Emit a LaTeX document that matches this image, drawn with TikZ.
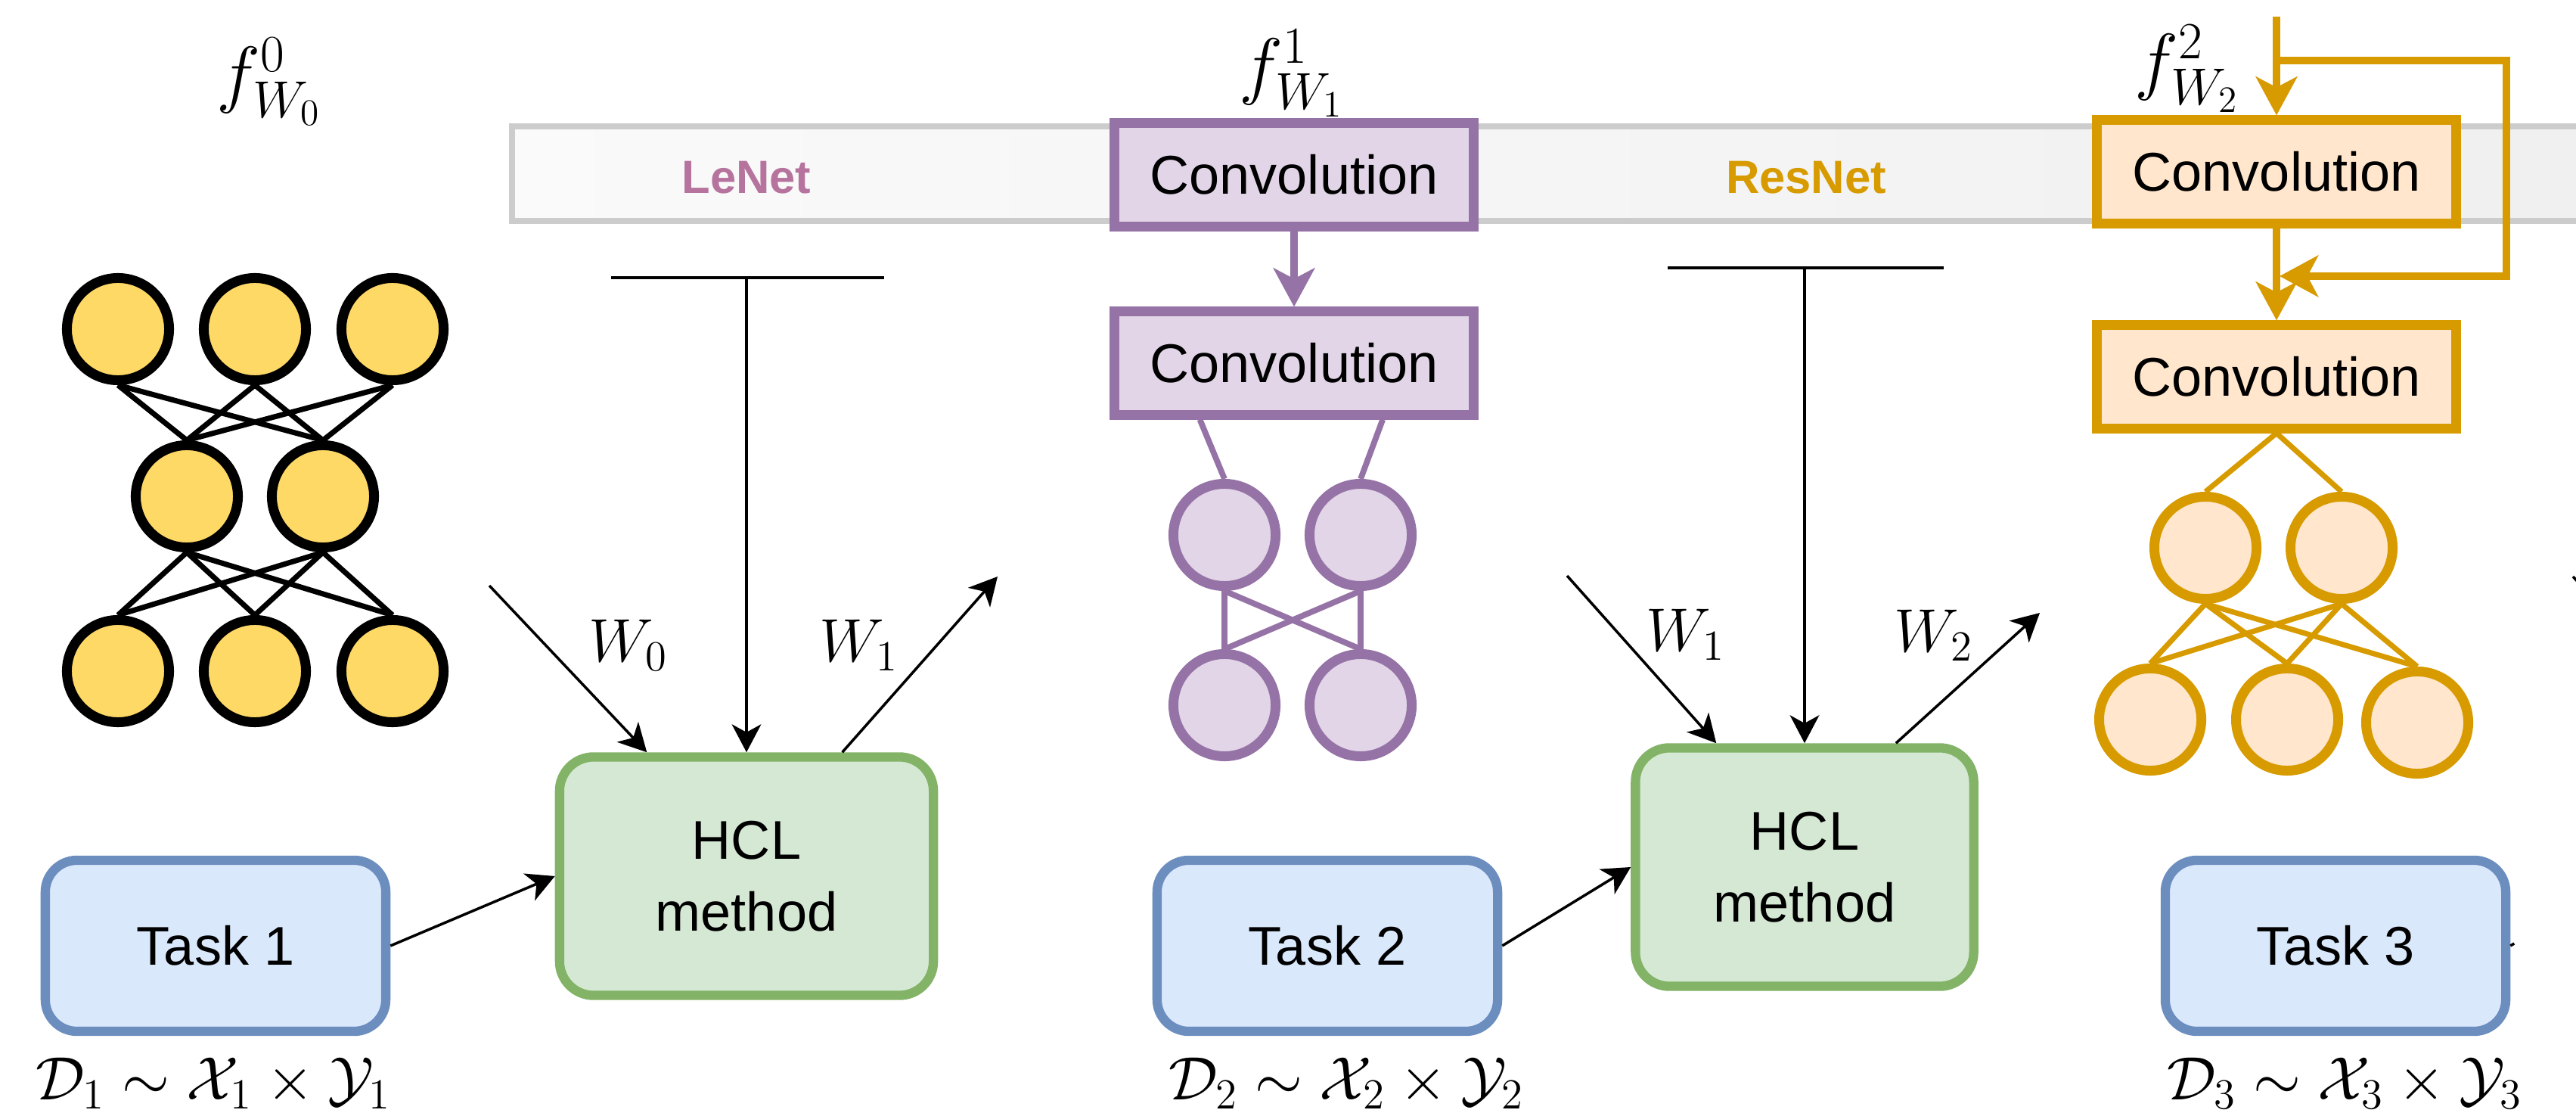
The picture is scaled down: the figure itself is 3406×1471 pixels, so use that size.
\RequirePackage{fix-cm}
\documentclass[tikz,border=0pt]{standalone}
\usepackage{fontspec}
\newfontfamily\labelfont{Liberation Sans}
\usetikzlibrary{arrows.meta,calc,backgrounds}

\definecolor{bandline}{HTML}{CCCCCC}
\definecolor{yelfill}{HTML}{FFD966}
\definecolor{purline}{HTML}{9673A6}
\definecolor{purfill}{HTML}{E1D5E7}
\definecolor{purtext}{HTML}{B5739D}
\definecolor{orgline}{HTML}{D79B00}
\definecolor{orgfill}{HTML}{FFE6CC}
\definecolor{grnline}{HTML}{82B366}
\definecolor{grnfill}{HTML}{D5E8D4}
\definecolor{bluline}{HTML}{6C8EBF}
\definecolor{blufill}{HTML}{DAE8FC}

\tikzset{
  boxtext/.style={font=\labelfont\fontsize{20.5}{27}\selectfont, align=center},
  bandlabel/.style={font=\labelfont\bfseries\fontsize{17.5}{21}\selectfont, inner sep=0pt},
  mathlbl/.style={font=\fontsize{23}{28}\selectfont, inner sep=0pt},
  funclbl/.style={font=\fontsize{28}{34}\selectfont, inner sep=0pt},
  neuron/.style={circle, inner sep=0pt, minimum size=1.35cm, line width=3.7pt},
  yneuron/.style={neuron, draw=black, fill=yelfill},
  pneuron/.style={neuron, draw=purline, fill=purfill},
  oneuron/.style={neuron, draw=orgline, fill=orgfill},
  convbox/.style={boxtext, rectangle, minimum width=4.75cm, minimum height=1.36cm,
    line width=3.7pt, inner sep=0pt},
  pconv/.style={convbox, draw=purline, fill=purfill},
  oconv/.style={convbox, draw=orgline, fill=orgfill},
  taskbox/.style={boxtext, rectangle, rounded corners=0.42cm, minimum width=4.5cm,
    minimum height=2.26cm, line width=3.5pt, draw=bluline, fill=blufill},
  hclbox/.style={boxtext, rectangle, rounded corners=0.45cm, minimum height=3.15cm,
    line width=3.5pt, draw=grnline, fill=grnfill},
  thinline/.style={line width=1pt},
  flow/.style={thinline, -{Stealth[length=10.5pt, width=11pt, inset=3pt]}},
  netedge/.style={line width=2pt},
  colarrow/.style={line width=2.7pt, -{Stealth[length=14.5pt, width=15.5pt, inset=4pt]}},
}

\begin{document}
\begin{tikzpicture}[x=0.01cm, y=-0.01cm]
\useasboundingbox (0,0) rectangle (3406,1471);

% grey architecture band
\draw[line width=2.3pt, draw=bandline, left color=white!98!black, right color=white!94!black]
  (677,167) rectangle (3470,292);
\node[bandlabel, text=purtext] (lenet) at (987,235) {LeNet};
\node[bandlabel, text=orgline] (resnet) at (2388,235) {ResNet};

% ---------- first model: fully connected net ----------
\node[funclbl] (f0) at (356,108) {$f^{0}_{W_0}$};
\node[yneuron] (y1) at (156,435) {};
\node[yneuron] (y2) at (337,435) {};
\node[yneuron] (y3) at (519,435) {};
\node[yneuron] (y4) at (247,656) {};
\node[yneuron] (y5) at (427,656) {};
\node[yneuron] (y6) at (156,887) {};
\node[yneuron] (y7) at (337,887) {};
\node[yneuron] (y8) at (519,887) {};
\begin{scope}[on background layer]
  \foreach \a in {y1,y2,y3} \foreach \b in {y4,y5}
    \draw[netedge] (\a.south) -- (\b.north);
  \foreach \a in {y4,y5} \foreach \b in {y6,y7,y8}
    \draw[netedge] (\a.south) -- (\b.north);
\end{scope}

% ---------- second model: LeNet ----------
\node[funclbl] (f1) at (1708,97) {$f^{1}_{W_1}$};
\node[pconv] (pc1) at (1711,231) {Convolution};
\node[pconv] (pc2) at (1711,480) {Convolution};
\draw[colarrow, color=purline] (pc1.south) -- (pc2.north);
\node[pneuron] (p1) at (1619,707) {};
\node[pneuron] (p2) at (1799,707) {};
\node[pneuron] (p3) at (1619,932) {};
\node[pneuron] (p4) at (1799,932) {};
\begin{scope}[on background layer]
  \draw[line width=2.2pt, purline] ($(pc2.south west)!0.245!(pc2.south east)$) -- (p1.north);
  \draw[line width=2.2pt, purline] ($(pc2.south west)!0.74!(pc2.south east)$) -- (p2.north);
  \foreach \a in {p1,p2} \foreach \b in {p3,p4}
    \draw[line width=2.2pt, purline] (\a.south) -- (\b.north);
\end{scope}

% ---------- third model: ResNet ----------
\node[funclbl] (f2) at (2892,91) {$f^{2}_{W_2}$};
\node[oconv] (oc1) at (3010,227) {Convolution};
\node[oconv] (oc2) at (3010,498) {Convolution};
\coordinate (otop) at (3010,22);
\coordinate (obranch) at (3010,80);
\coordinate (oskipa) at (3314,80);
\coordinate (oskipb) at (3314,365);
\coordinate (oskipend) at (3014,365);
\draw[colarrow, color=orgline] (otop) -- (oc1.north);
\draw[colarrow, color=orgline] (oc1.south) -- (oc2.north);
\draw[colarrow, color=orgline] (obranch) -- (oskipa) -- (oskipb) -- (oskipend);
\node[oneuron] (o1) at (2916,724) {};
\node[oneuron] (o2) at (3096,724) {};
\node[oneuron] (o3) at (2843,951) {};
\node[oneuron] (o4) at (3024,951) {};
\node[oneuron] (o5) at (3196,955) {};
\begin{scope}[on background layer]
  \draw[netedge, orgline] (oc2.south) -- (o1.north);
  \draw[netedge, orgline] (oc2.south) -- (o2.north);
  \foreach \a in {o1,o2} \foreach \b in {o3,o4,o5}
    \draw[netedge, orgline] (\a.south) -- (\b.north);
\end{scope}

% ---------- tasks and HCL steps ----------
\node[taskbox] (t1) at (285,1250) {Task 1};
\node[taskbox] (t2) at (1755,1250) {Task 2};
\node[taskbox] (t3) at (3088,1250) {Task 3};
\node[mathlbl] (d1) at (282,1432) {$\mathcal{D}_1 \sim \mathcal{X}_1 \times \mathcal{Y}_1$};
\node[mathlbl] (d2) at (1780,1432) {$\mathcal{D}_2 \sim \mathcal{X}_2 \times \mathcal{Y}_2$};
\node[mathlbl] (d3) at (3100,1432) {$\mathcal{D}_3 \sim \mathcal{X}_3 \times \mathcal{Y}_3$};

\node[hclbox, minimum width=4.94cm] (h1) at (987,1158) {HCL\\method};
\node[hclbox, minimum width=4.47cm] (h2) at (2386,1146) {HCL\\method};

\draw[flow] (t1.east) -- (h1.west);
\draw[flow] (t2.east) -- (h2.west);

% first HCL step
\coordinate (bar1l) at (808,367);
\coordinate (bar1r) at (1169,367);
\draw[thinline] (bar1l) -- (bar1r);
\draw[flow] (bar1l -| h1.north) -- (h1.north);
\coordinate (w0start) at (647,774);
\coordinate (w1end) at (1319,762);
\draw[flow] (w0start) -- ($(h1.north west)!0.24!(h1.north east)$);
\draw[flow] ($(h1.north west)!0.75!(h1.north east)$) -- (w1end);
\node[mathlbl] (lw0) at (831,853) {$W_0$};
\node[mathlbl] (lw1) at (1136,853) {$W_1$};

% second HCL step
\coordinate (bar2l) at (2205,354);
\coordinate (bar2r) at (2570,354);
\draw[thinline] (bar2l) -- (bar2r);
\draw[flow] (bar2l -| h2.north) -- (h2.north);
\coordinate (w1start) at (2072,761);
\coordinate (w2end) at (2697,810);
\draw[flow] (w1start) -- ($(h2.north west)!0.246!(h2.north east)$);
\draw[flow] ($(h2.north west)!0.763!(h2.north east)$) -- (w2end);
\node[mathlbl] (lw1b) at (2229,839) {$W_1$};
\node[mathlbl] (lw2) at (2557,840) {$W_2$};

% continuation toward the next step
\coordinate (w2start) at (3402,762);
\draw[thinline] (w2start) -- ++(200,224);
\draw[thinline] (t3.east) -- ++(5,-3);
\end{tikzpicture}
\end{document}
